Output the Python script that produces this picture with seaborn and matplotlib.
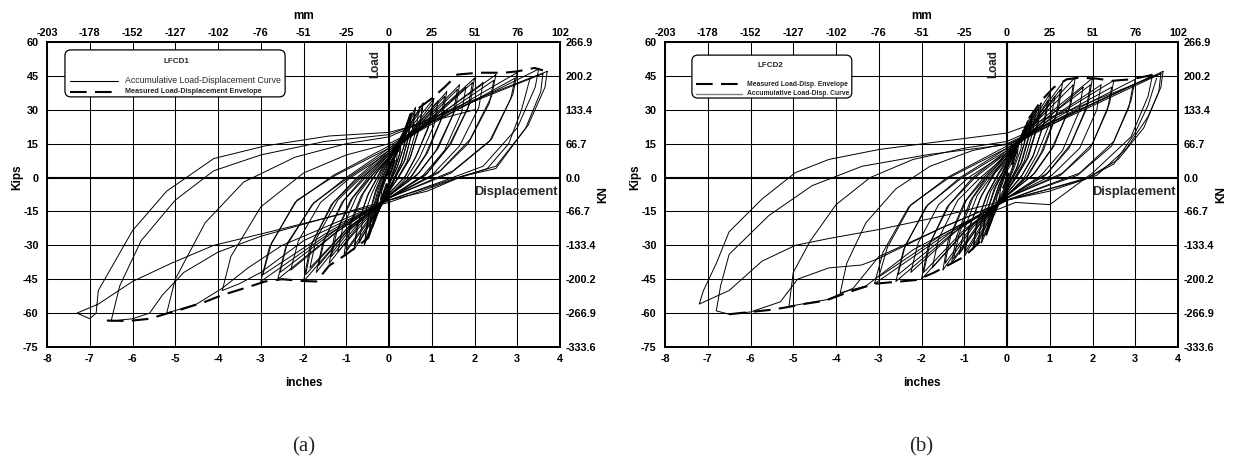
import matplotlib
matplotlib.use("Agg")
import matplotlib.pyplot as plt
from matplotlib.patches import FancyBboxPatch
import seaborn as sns
import pandas as pd

# ---------------- data (inches, kips) ----------------
inch_ticks = [-8, -7, -6, -5, -4, -3, -2, -1, 0, 1, 2, 3, 4]
mm_labels = ["-203", "-178", "-152", "-127", "-102", "-76", "-51", "-25", "0", "25", "51", "76", "102"]
kip_ticks = [-75, -60, -45, -30, -15, 0, 15, 30, 45, 60]
kn_labels = ["-333.6", "-266.9", "-200.2", "-133.4", "-66.7", "0.0", "66.7", "133.4", "200.2", "266.9"]

cycles_a = [
    [(0.20,12),(0.17,7),(0.08,2),(0.0,-2),(-0.12,-7),(-0.20,-10),(-0.17,-6),(-0.08,-1),(0.0,3),(0.10,7),(0.20,12)],
    [(0.30,18),(0.26,11),(0.12,3),(0.0,-3),(-0.18,-11),(-0.30,-16),(-0.26,-10),(-0.12,-2),(0.0,4),(0.15,10),(0.30,18)],
    [(0.28,16),(0.24,10),(0.10,2),(0.0,-2),(-0.16,-9),(-0.28,-14),(-0.24,-8),(-0.10,-1),(0.0,3),(0.14,9),(0.28,16)],
    [(0.42,24),(0.37,15),(0.20,5),(0.05,-1),(0.0,-4),(-0.20,-13),(-0.38,-22),(-0.33,-14),(-0.18,-4),(0.0,5),(0.20,13),(0.42,24)],
    [(0.40,22),(0.35,14),(0.18,4),(0.0,-3),(-0.20,-12),(-0.36,-20),(-0.31,-12),(-0.15,-3),(0.0,4),(0.20,12),(0.40,22)],
    [(0.52,28),(0.46,18),(0.30,7),(0.10,-1),(0.0,-5),(-0.25,-15),(-0.48,-27),(-0.42,-17),(-0.25,-5),(-0.05,4),(0.10,9),(0.30,18),(0.52,28)],
    [(0.50,26),(0.44,17),(0.28,6),(0.08,-2),(0.0,-5),(-0.24,-14),(-0.46,-25),(-0.40,-16),(-0.22,-5),(0.0,5),(0.28,16),(0.50,26)],
    [(0.62,31),(0.55,21),(0.38,8),(0.15,0),(0.0,-6),(-0.30,-17),(-0.58,-30),(-0.50,-19),(-0.32,-6),(-0.10,4),(0.0,8),(0.30,19),(0.62,31)],
    [(0.60,29),(0.53,19),(0.35,7),(0.12,-1),(0.0,-6),(-0.30,-16),(-0.56,-28),(-0.48,-18),(-0.30,-6),(0.0,7),(0.30,18),(0.60,29)],
    [(0.70,30),(0.62,20),(0.42,7),(0.18,-1),(0.0,-6),(-0.35,-17),(-0.70,-29),(-0.62,-19),(-0.40,-7),(-0.15,3),(0.0,7),(0.35,19),(0.70,30)],
    [(0.80,33),(0.72,23),(0.50,9),(0.25,1),(0.0,-6),(-0.40,-19),(-0.82,-32),(-0.74,-21),(-0.50,-8),(-0.20,3),(0.0,9),(0.40,21),(0.80,33)],
    [(0.78,31),(0.70,21),(0.48,8),(0.22,0),(0.0,-6),(-0.40,-18),(-0.80,-30),(-0.72,-20),(-0.48,-7),(-0.18,3),(0.0,8),(0.40,20),(0.78,31)],
    [(1.05,35),(0.95,24),(0.65,10),(0.40,1),(0.0,-7),(-0.50,-20),(-1.05,-34),(-0.95,-22),(-0.65,-8),(-0.30,2),(0.0,9),(0.50,22),(1.05,35)],
    [(1.02,33),(0.92,22),(0.62,9),(0.36,0),(0.0,-7),(-0.50,-19),(-1.00,-32),(-0.90,-21),(-0.60,-7),(-0.25,3),(0.0,8),(0.50,20),(1.02,33)],
    [(1.15,34),(1.05,23),(0.72,9),(0.42,0),(0.0,-8),(-0.60,-20),(-1.20,-33),(-1.08,-22),(-0.75,-8),(-0.35,2),(0.0,9),(0.55,21),(1.15,34)],
    [(1.35,38),(1.25,27),(0.90,11),(0.55,1),(0.0,-8),(-0.70,-21),(-1.40,-38),(-1.28,-26),(-0.90,-10),(-0.45,1),(0.0,10),(0.60,22),(1.35,38)],
    [(1.30,36),(1.20,25),(0.85,10),(0.50,0),(0.0,-8),(-0.70,-20),(-1.35,-35),(-1.22,-24),(-0.85,-9),(-0.40,1),(0.0,9),(0.60,21),(1.30,36)],
    [(1.65,41),(1.55,30),(1.15,13),(0.70,2),(0.0,-8),(-0.90,-23),(-1.70,-42),(-1.55,-29),(-1.10,-11),(-0.60,0),(0.0,11),(0.70,23),(1.65,41)],
    [(1.60,39),(1.50,28),(1.10,12),(0.65,1),(0.0,-8),(-0.90,-22),(-1.65,-39),(-1.50,-27),(-1.05,-10),(-0.55,0),(0.0,10),(0.70,22),(1.60,39)],
    [(1.80,40),(1.70,29),(1.30,12),(0.80,1),(0.0,-9),(-0.95,-22),(-1.85,-40),(-1.70,-27),(-1.20,-10),(-0.65,0),(0.0,10),(0.80,23),(1.80,40)],
    [(2.00,44),(1.90,33),(1.45,15),(0.90,2),(0.0,-9),(-1.00,-24),(-2.00,-46),(-1.85,-31),(-1.35,-12),(-0.75,0),(0.0,12),(0.90,25),(2.00,44)],
    [(1.95,42),(1.85,31),(1.40,14),(0.85,1),(0.0,-9),(-1.00,-23),(-1.95,-43),(-1.80,-29),(-1.30,-11),(-0.70,0),(0.0,11),(0.90,24),(1.95,42)],
    [(2.20,42),(2.10,31),(1.65,14),(1.00,1),(0.0,-9),(-1.15,-23),(-2.30,-41),(-2.12,-28),(-1.60,-11),(-0.90,0),(0.0,11),(1.00,25),(2.20,42)],
    [(2.50,45.5),(2.40,36),(1.90,17),(1.20,3),(0.0,-9),(-1.30,-25),(-2.60,-45),(-2.42,-31),(-1.80,-12),(-1.00,0),(0.0,13),(1.20,28),(2.50,45.5)],
    [(2.45,43),(2.35,33),(1.85,15),(1.15,2),(0.0,-9),(-1.30,-24),(-2.55,-42),(-2.38,-29),(-1.75,-11),(-0.95,0),(0.0,12),(1.20,27),(2.45,43)],
    [(3.00,46.5),(2.90,37),(2.40,17),(1.50,3),(0.0,-9),(-1.50,-26),(-3.00,-46),(-2.80,-31),(-2.20,-11),(-1.30,1),(0.0,14),(1.50,30),(3.00,46.5)],
    [(2.95,44),(2.85,35),(2.35,16),(1.45,2),(0.0,-9),(-1.50,-25),(-2.95,-43),(-2.75,-29),(-2.15,-10),(-1.25,1),(0.0,13),(1.50,29),(2.95,44)],
    [(3.50,48),(3.42,40),(3.00,22),(2.20,5),(1.20,-2),(0.0,-10),(-2.00,-28),(-3.00,-42),(-3.50,-47),(-3.90,-50),(-3.70,-35),(-3.00,-13),(-2.00,2),(-1.00,10),(0.0,15),(1.80,32),(3.50,48)],
    [(3.70,47),(3.65,40),(3.25,23),(2.50,5),(1.60,0),(0.0,-10),(-2.50,-30),(-3.30,-40),(-3.90,-49),(-4.50,-56),(-5.20,-60),(-5.00,-45),(-4.30,-20),(-3.40,-2),(-2.20,9),(-1.00,15),(0.0,18),(1.80,33),(3.70,47)],
    [(3.60,46),(3.55,38),(3.20,22),(2.50,4),(1.70,0.5),(0.90,-6),(0.0,-10),(-1.50,-18),(-3.00,-26),(-4.00,-33),(-4.80,-42),(-5.30,-52),(-5.60,-60),(-6.00,-62.5),(-6.50,-63.5),(-6.30,-48),(-5.80,-28),(-5.00,-10),(-4.10,3),(-3.00,10),(-1.50,16),(0.0,19),(1.50,30),(3.60,46)],
    [(3.30,44),(3.10,30),(2.80,15),(2.30,4),(1.50,-1),(0.0,-11),(-1.50,-18),(-3.00,-25),(-4.10,-30),(-5.10,-38),(-6.00,-46),(-6.80,-56),(-7.30,-60),(-7.00,-62.5),(-6.85,-60),(-6.80,-50),(-6.00,-23.5),(-5.20,-6),(-4.10,8.4),(-2.90,14),(-1.40,18.4),(0.0,20),(1.00,25),(2.00,30)],
]

envelope_a = [(-6.6,-63.3),(-6.1,-63.5),(-5.6,-62.5),(-5.2,-60.2),(-4.8,-58),(-4.3,-55),(-3.9,-52),(-3.3,-48.5),
              (-2.9,-46),(-2.5,-45),(-2.0,-45.8),(-1.7,-46),(-1.4,-39),(-1.0,-34),(-0.5,-27),(0.0,0),(0.5,28),
              (1.0,35),(1.3,40),(1.6,45.6),(2.1,46.4),(2.7,46.4),(3.0,47),(3.4,48.5),(3.6,47.5)]

cycles_b = [
    [(0.18,10),(0.15,6),(0.06,1),(0.0,-2),(-0.10,-6),(-0.18,-9),(-0.15,-5),(-0.06,0),(0.0,3),(0.10,6),(0.18,10)],
    [(0.28,16),(0.24,10),(0.10,2),(0.0,-3),(-0.16,-10),(-0.28,-15),(-0.24,-9),(-0.10,-1),(0.0,4),(0.14,9),(0.28,16)],
    [(0.38,21),(0.33,13),(0.16,4),(0.0,-3),(-0.20,-12),(-0.38,-20),(-0.32,-12),(-0.15,-3),(0.0,4),(0.18,11),(0.38,21)],
    [(0.48,25),(0.42,16),(0.25,5),(0.0,-4),(-0.25,-14),(-0.48,-25),(-0.40,-15),(-0.20,-4),(0.0,5),(0.25,14),(0.48,25)],
    [(0.45,23),(0.40,15),(0.22,4),(0.0,-4),(-0.24,-13),(-0.45,-23),(-0.38,-14),(-0.18,-3),(0.0,5),(0.24,13),(0.45,23)],
    [(0.60,29),(0.53,19),(0.35,7),(0.10,-1),(0.0,-5),(-0.30,-16),(-0.60,-29),(-0.52,-18),(-0.30,-5),(0.0,6),(0.30,17),(0.60,29)],
    [(0.58,27),(0.50,18),(0.32,6),(0.08,-2),(0.0,-5),(-0.30,-15),(-0.58,-27),(-0.50,-17),(-0.28,-5),(0.0,6),(0.30,16),(0.58,27)],
    [(0.68,30),(0.60,20),(0.40,7),(0.15,-1),(0.0,-6),(-0.35,-16),(-0.68,-29),(-0.60,-19),(-0.38,-6),(-0.12,2),(0.0,7),(0.35,18),(0.68,30)],
    [(0.80,33),(0.72,23),(0.50,9),(0.22,0),(0.0,-6),(-0.40,-18),(-0.80,-32),(-0.72,-21),(-0.48,-8),(-0.20,2),(0.0,8),(0.40,20),(0.80,33)],
    [(0.75,31),(0.68,21),(0.46,8),(0.20,0),(0.0,-6),(-0.40,-17),(-0.78,-30),(-0.70,-20),(-0.45,-7),(-0.18,2),(0.0,7),(0.40,19),(0.75,31)],
    [(1.00,37),(0.90,26),(0.62,10),(0.35,1),(0.0,-7),(-0.50,-19),(-1.00,-35),(-0.90,-23),(-0.62,-9),(-0.30,2),(0.0,9),(0.50,22),(1.00,37)],
    [(0.95,34),(0.86,24),(0.60,9),(0.32,0),(0.0,-7),(-0.50,-18),(-0.98,-33),(-0.88,-22),(-0.60,-8),(-0.28,2),(0.0,8),(0.50,21),(0.95,34)],
    [(1.12,36),(1.02,25),(0.70,10),(0.40,0),(0.0,-8),(-0.58,-19),(-1.12,-34),(-1.00,-23),(-0.70,-8),(-0.35,1),(0.0,9),(0.55,21),(1.12,36)],
    [(1.30,42),(1.20,30),(0.85,12),(0.50,1),(0.0,-8),(-0.65,-21),(-1.30,-38),(-1.18,-26),(-0.85,-10),(-0.45,1),(0.0,10),(0.60,24),(1.30,42)],
    [(1.25,39),(1.15,28),(0.80,11),(0.45,0),(0.0,-8),(-0.65,-20),(-1.25,-36),(-1.12,-25),(-0.80,-9),(-0.40,1),(0.0,9),(0.60,23),(1.25,39)],
    [(1.60,44.5),(1.50,33),(1.10,14),(0.65,2),(0.0,-8),(-0.80,-22),(-1.50,-41),(-1.38,-28),(-1.00,-11),(-0.55,0),(0.0,11),(0.70,26),(1.60,44.5)],
    [(1.55,41),(1.45,30),(1.05,13),(0.60,1),(0.0,-8),(-0.80,-21),(-1.45,-38),(-1.32,-26),(-0.95,-10),(-0.50,0),(0.0,10),(0.70,25),(1.55,41)],
    [(1.78,40),(1.68,29),(1.30,12),(0.80,1),(0.0,-9),(-0.90,-22),(-1.75,-40),(-1.60,-27),(-1.15,-10),(-0.62,0),(0.0,10),(0.80,24),(1.78,40)],
    [(2.00,44),(1.90,33),(1.50,15),(0.95,2),(0.0,-9),(-1.00,-24),(-2.00,-45),(-1.85,-31),(-1.40,-13),(-0.80,0),(0.0,12),(0.90,27),(2.00,44)],
    [(1.95,41),(1.85,30),(1.45,13),(0.90,1),(0.0,-9),(-1.00,-23),(-1.95,-42),(-1.80,-29),(-1.35,-12),(-0.75,0),(0.0,11),(0.90,26),(1.95,41)],
    [(2.20,41),(2.10,30),(1.70,13),(1.05,1),(0.0,-9),(-1.15,-23),(-2.25,-42),(-2.08,-29),(-1.60,-12),(-0.90,0),(0.0,11),(1.00,26),(2.20,41)],
    [(2.50,43),(2.40,33),(2.00,15),(1.30,2),(0.0,-9),(-1.30,-25),(-2.60,-46),(-2.42,-32),(-1.90,-13),(-1.10,0),(0.0,13),(1.20,28),(2.50,43)],
    [(2.45,40),(2.35,30),(1.95,13),(1.25,1),(0.0,-9),(-1.30,-24),(-2.55,-43),(-2.38,-30),(-1.85,-12),(-1.05,0),(0.0,12),(1.20,27),(2.45,40)],
    [(3.00,43.5),(2.90,34),(2.50,16),(1.70,2),(0.0,-10),(-1.50,-26),(-3.10,-47),(-2.90,-33),(-2.30,-13),(-1.40,0),(0.0,14),(1.50,29),(3.00,43.5)],
    [(2.95,41),(2.85,31),(2.45,14),(1.65,1),(0.0,-10),(-1.50,-25),(-3.00,-44),(-2.80,-31),(-2.25,-12),(-1.35,0),(0.0,13),(1.50,28),(2.95,41)],
    [(3.40,45),(3.30,36),(2.90,18),(2.00,2),(1.00,-12),(0.20,-11),(-1.00,-20),(-2.20,-32),(-3.30,-48),(-3.90,-51),(-3.75,-38),(-3.30,-20),(-2.60,-5),(-1.80,5),(-0.80,12),(0.0,15),(1.70,30),(3.40,45)],
    [(3.65,47),(3.60,40),(3.30,27),(2.80,13),(2.10,1),(1.00,-6),(0.0,-10),(-1.50,-22),(-3.00,-35),(-3.60,-49),(-4.20,-54),(-4.80,-56),(-5.10,-57),(-5.00,-42),(-4.60,-28),(-4.00,-12),(-3.20,0),(-2.20,8),(-1.00,13),(0.0,16),(1.80,31),(3.65,47)],
    [(3.60,46),(3.55,38),(3.20,22),(2.60,8),(1.90,0),(0.80,-6),(0.0,-10),(-1.50,-22),(-3.00,-35.8),(-3.40,-38.7),(-4.17,-40),(-4.90,-45),(-5.30,-55),(-6.00,-59.5),(-6.50,-60.5),(-6.80,-59),(-6.70,-48),(-6.50,-34),(-5.57,-16.8),(-4.56,-3.6),(-3.39,5),(-1.83,10.2),(0.0,14.6),(1.80,30),(3.60,46)],
    [(3.50,44),(3.30,32),(3.00,20),(2.50,6),(1.80,-1),(0.0,-10),(-1.50,-17),(-3.00,-23),(-4.17,-27),(-4.95,-30),(-5.73,-37),(-6.50,-50),(-7.20,-56),(-7.10,-50),(-6.80,-38),(-6.50,-24),(-5.73,-9.5),(-4.95,2.2),(-4.17,8),(-3.00,12.4),(-1.83,15.3),(0.0,19.7),(1.50,30),(3.60,46)],
]

envelope_b = [(-6.5,-60.5),(-6.0,-59.5),(-5.5,-58.5),(-5.15,-57.4),(-4.7,-55.8),(-4.25,-54.5),(-3.75,-51),(-3.1,-47),
              (-2.5,-46),(-2.1,-45.3),(-1.7,-42),(-1.4,-39),(-1.0,-35),(-0.5,-26),(0.0,0),(0.5,26),(0.62,29),(0.8,34),
              (1.1,40),(1.4,43.5),(1.7,44.2),(2.1,43.8),(2.45,42.8),(2.9,43.5),(3.3,45),(3.6,46.5)]

panels = [
    dict(cycles=cycles_a, env=envelope_a, tag="(a)", title="LFCD1",
         labels=["Accumulative Load-Displacement Curve", "Measured Load-Displacement Envelope"],
         styles=["solid", "dash"], weights=["normal", "bold"], sizes=[6.3, 5.2],
         box=(-7.58, 35.7, -2.43, 56.5), title_xy=(-4.98, 51.4),
         rows_y=[42.9, 37.9], handle_x=(-7.46, -6.34), text_x=-6.18),
    dict(cycles=cycles_b, env=envelope_b, tag="(b)", title="LFCD2",
         labels=["Measured Load-Disp. Envelope", "Accumulative Load-Disp. Curve"],
         styles=["dash", "gray"], weights=["bold", "bold"], sizes=[4.9, 4.9],
         box=(-7.37, 35.2, -3.63, 54.2), title_xy=(-5.54, 49.8),
         rows_y=[41.4, 37.0], handle_x=(-7.27, -6.19), text_x=-6.08),
]

# ---------------- style ----------------
sns.set_theme(style="white")
plt.rcParams["font.family"] = ["Liberation Sans", "DejaVu Sans"]
plt.rcParams["axes.unicode_minus"] = False

W, H = 1234, 463
fig = plt.figure(figsize=(W / 100, H / 100), dpi=100)
fig.patch.set_facecolor("white")

frames = [(47, 560), (665, 1178)]
top_px, bot_px = 42, 347
DASH = (0, (8, 4))
TICK_FS = 7.8
LAB_FS = 8.5

for (lpx, rpx), p in zip(frames, panels):
    ax = fig.add_axes([lpx / W, 1 - bot_px / H, (rpx - lpx) / W, (bot_px - top_px) / H])
    ax.set_facecolor("white")
    ax.set_xlim(-8, 4)
    ax.set_ylim(-75, 60)
    ax.set_xticks(inch_ticks)
    ax.set_yticks(kip_ticks)
    ax.grid(True, color="black", linewidth=0.75)
    ax.set_axisbelow(True)
    ax.axhline(0, color="black", lw=1.5, zorder=1.5)
    ax.axvline(0, color="black", lw=1.5, zorder=1.5)
    ax.tick_params(axis="y", length=0, labelsize=TICK_FS, pad=6, colors="black")
    ax.tick_params(axis="x", length=0, labelsize=TICK_FS, pad=5, colors="black")
    for t in ax.get_xticklabels() + ax.get_yticklabels():
        t.set_fontweight("bold")

    rows = []
    for ci, cyc in enumerate(p["cycles"]):
        for k, (x, y) in enumerate(cyc):
            rows.append((ci, k, x, y))
    df = pd.DataFrame(rows, columns=["cycle", "k", "x", "y"])
    sns.lineplot(data=df, x="x", y="y", units="cycle", estimator=None, sort=False,
                 color="black", linewidth=0.7, ax=ax, legend=False, zorder=3)
    env = pd.DataFrame(p["env"], columns=["x", "y"])
    sns.lineplot(data=env, x="x", y="y", sort=False, estimator=None, color="black",
                 linewidth=1.5, linestyle=DASH, ax=ax, legend=False, zorder=4)

    ax.set_xlabel("inches", fontsize=LAB_FS, fontweight="bold", color="black")
    ax.xaxis.set_label_coords(0.5, -0.098)
    ax.set_ylabel("Kips", fontsize=LAB_FS, fontweight="bold", color="black")
    ax.yaxis.set_label_coords(-0.047, 0.556)

    ax.text(-0.31, 50.3, "Load", rotation=90, ha="center", va="center",
            fontsize=8.4, fontweight="bold", zorder=6)
    ax.text(3.95, -6.4, "Displacement", ha="right", va="center",
            fontsize=9.3, fontweight="bold", zorder=6)

    # legend box (drawn by hand to match the original layout)
    x0, y0, x1, y1 = p["box"]
    px_per_in = (rpx - lpx) / 12.0
    px_per_kip = (bot_px - top_px) / 135.0
    aspect = px_per_in / px_per_kip
    box = FancyBboxPatch((x0, y0), x1 - x0, y1 - y0,
                         boxstyle="round,pad=0,rounding_size=0.14",
                         mutation_aspect=aspect, transform=ax.transData,
                         facecolor="white", edgecolor="black", linewidth=0.9, zorder=7)
    ax.add_patch(box)
    ax.text(p["title_xy"][0], p["title_xy"][1], p["title"], ha="center", va="center",
            fontsize=5.8, fontweight="bold", zorder=8)
    hx0, hx1 = p["handle_x"]
    for yy, lab, sty, wt, fs in zip(p["rows_y"], p["labels"], p["styles"], p["weights"], p["sizes"]):
        if sty == "dash":
            ax.plot([hx0, hx1], [yy, yy], color="black", lw=1.5, linestyle=DASH, zorder=8)
        elif sty == "gray":
            ax.plot([hx0, hx1], [yy, yy], color="#808080", lw=1.0, zorder=8)
        else:
            ax.plot([hx0, hx1], [yy, yy], color="black", lw=0.8, zorder=8)
        ax.text(p["text_x"], yy, lab, ha="left", va="center", fontsize=fs,
                fontweight=wt, zorder=8)

    for s in ax.spines.values():
        s.set_color("black")
        s.set_linewidth(1.2)
        s.set_zorder(9)

    # top mm axis
    axt = ax.twiny()
    axt.set_xlim(-8, 4)
    axt.set_xticks(inch_ticks)
    axt.set_xticklabels(mm_labels)
    axt.tick_params(length=0, labelsize=TICK_FS, pad=3, colors="black")
    for t in axt.get_xticklabels():
        t.set_fontweight("bold")
    axt.set_xlabel("mm", fontsize=LAB_FS, fontweight="bold", color="black")
    axt.xaxis.set_label_coords(0.5, 1.075)
    axt.grid(False)

    # right kN axis
    axr = ax.twinx()
    axr.set_ylim(-75, 60)
    axr.set_yticks(kip_ticks)
    axr.set_yticklabels(kn_labels)
    axr.tick_params(length=0, labelsize=TICK_FS, pad=4, colors="black")
    for t in axr.get_yticklabels():
        t.set_fontweight("bold")
    axr.set_ylabel("KN", fontsize=LAB_FS, fontweight="bold", color="black")
    axr.yaxis.set_label_coords(1.072, 0.5)
    axr.grid(False)
    for a in (axt, axr):
        for s in a.spines.values():
            s.set_color("black")
            s.set_linewidth(1.2)

    fig.text(((lpx + rpx) / 2) / W, 1 - 447 / H, p["tag"], ha="center", va="center",
             fontsize=15, family=["Liberation Serif", "DejaVu Serif"], fontweight="normal")

fig.savefig("out.png", dpi=100, facecolor="white")
